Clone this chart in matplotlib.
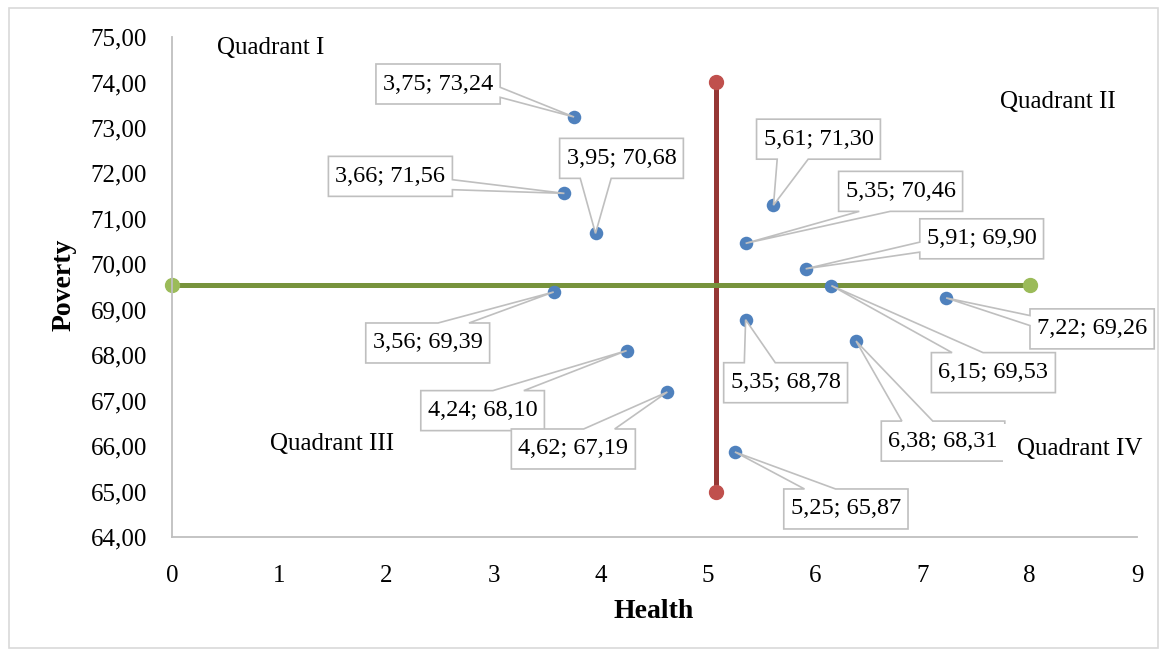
import numpy as np
import matplotlib
matplotlib.use("Agg")
import matplotlib.pyplot as plt
from matplotlib.patches import Polygon, Rectangle
from matplotlib.transforms import IdentityTransform

health = [3.75, 3.66, 3.95, 5.61, 5.35, 5.91, 3.56, 6.15, 7.22, 5.35, 4.24, 4.62, 6.38, 5.25]
poverty = [73.24, 71.56, 70.68, 71.30, 70.46, 69.90, 69.39, 69.53, 69.26, 68.78, 68.10, 67.19, 68.31, 65.87]

# average lines splitting the plane into quadrants
health_avg_x = [5.07, 5.07]
health_avg_y = [65.0, 74.0]
poverty_avg_x = [0.0, 8.0]
poverty_avg_y = [69.54, 69.54]

quadrant_names = ["Quadrant I", "Quadrant II", "Quadrant III", "Quadrant IV"]
quadrant_pos = [(0.42, 74.75), (7.72, 73.58), (0.91, 66.04), (7.88, 65.93)]

# callout box centre relative to its point, in pixels (x right, y up)
label_offsets = [(-136, 33), (-174, 17), (26, 75), (45, 66), (155, 52), (176, 30),
                 (-126, -51), (162, -87), (146, -31), (40, -63), (-144, -60),
                 (-94, -57), (87, -100), (111, -57)]

FONT = "Liberation Serif"
GRID_GREY = "#bfbfbf"
BOX_H = 40
BOX_PADX = 7

plt.rcParams["font.family"] = [FONT, "DejaVu Serif"]

fig = plt.figure(figsize=(11.66, 6.55), dpi=100)
ax = fig.add_axes([0.1475, 0.1802, 0.8276, 0.7633])

ax.plot(health_avg_x, health_avg_y, color="#953735", lw=3.6, zorder=2,
        marker="o", ms=10, mfc="#c0504d", mec="#c0504d", solid_capstyle="butt",
        clip_on=False)
ax.plot(poverty_avg_x, poverty_avg_y, color="#77933c", lw=3.6, zorder=2.5,
        marker="o", ms=10, mfc="#9bbb59", mec="#9bbb59", solid_capstyle="butt",
        clip_on=False)
ax.scatter(health, poverty, s=95, color="#4f81bd", zorder=3, linewidths=0)

ax.set_xlim(0, 9)
ax.set_ylim(64, 75)
ax.set_xticks(range(10))
ax.set_yticks(np.arange(64, 76, 1))
ax.yaxis.set_major_formatter(lambda v, p: f"{v:.2f}".replace(".", ","))
ax.tick_params(length=0, labelsize=18)
ax.tick_params(axis="x", pad=20)
ax.tick_params(axis="y", pad=18)
for side in ("top", "right"):
    ax.spines[side].set_visible(False)
for side in ("left", "bottom"):
    ax.spines[side].set_color(GRID_GREY)
    ax.spines[side].set_linewidth(1.3)

ax.set_xlabel("Health", fontsize=20, fontweight="bold")
ax.set_ylabel("Poverty", fontsize=20, fontweight="bold")
ax.xaxis.set_label_coords(0.4995, -0.15)
ax.xaxis.label.set_va("center")
ax.yaxis.set_label_coords(-0.112, 0.504)
ax.yaxis.label.set_va("center")

for name, (qx, qy) in zip(quadrant_names, quadrant_pos):
    t = ax.text(qx, qy, name, fontsize=18, ha="left", va="center", zorder=6)
    if name == "Quadrant IV":
        t.set_bbox(dict(boxstyle="square,pad=0.55", fc="white", ec="none"))

labels = []
for x, y, (dx, dy) in zip(health, poverty, label_offsets):
    txt = f"{x:.2f}; {y:.2f}".replace(".", ",")
    a = ax.annotate(txt, xy=(x, y), xytext=(dx, dy), textcoords="offset pixels",
                    ha="center", va="center", fontsize=17.5, zorder=5)
    labels.append(a)

fig.canvas.draw()


def callout_outline(tb, px, py):
    # rectangular callout with a wedge pointing at (px, py), display pixels
    cx, cy = (tb.x0 + tb.x1) / 2, (tb.y0 + tb.y1) / 2
    x0, x1 = tb.x0 - BOX_PADX, tb.x1 + BOX_PADX
    y0, y1 = cy - BOX_H / 2, cy + BOX_H / 2
    w, h = x1 - x0, y1 - y0
    dx, dy = px - cx, py - cy
    bl, br, tr, tl = (x0, y0), (x1, y0), (x1, y1), (x0, y1)
    if abs(dx) * h > abs(dy) * w:
        if dy < 0:
            ya, yb = y1 - h * 10 / 12, y1 - h * 7 / 12
        else:
            ya, yb = y1 - h * 5 / 12, y1 - h * 2 / 12
        if dx > 0:
            return [bl, br, (x1, ya), (px, py), (x1, yb), tr, tl]
        return [bl, br, tr, tl, (x0, yb), (px, py), (x0, ya)]
    if dx > 0:
        xa, xb = x0 + w * 7 / 12, x0 + w * 10 / 12
    else:
        xa, xb = x0 + w * 2 / 12, x0 + w * 5 / 12
    if dy > 0:
        return [bl, br, tr, (xb, y1), (px, py), (xa, y1), tl]
    return [bl, (xa, y0), (px, py), (xb, y0), br, tr, tl]


for a in labels:
    tb = a.get_window_extent()
    px, py = ax.transData.transform(a.xy)
    poly = Polygon(callout_outline(tb, px, py), closed=True, fc="white",
                   ec=GRID_GREY, lw=1.2, transform=IdentityTransform(),
                   clip_on=False, zorder=4)
    ax.add_patch(poly)

ax.set_xlim(0, 9)
ax.set_ylim(64, 75)

fig.add_artist(Rectangle((9 / 1166, 1 - 648 / 655), 1149 / 1166, 640 / 655,
                         transform=fig.transFigure, fill=False, ec="#d9d9d9", lw=1.2))

fig.savefig("out.png", dpi=100)
